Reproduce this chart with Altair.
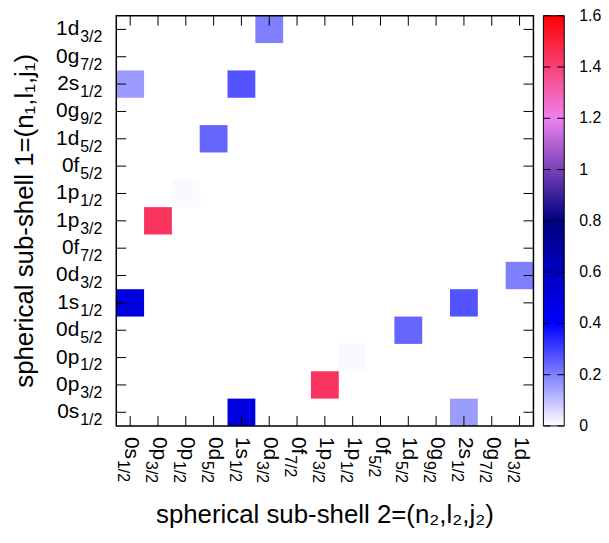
import altair as alt
import pandas as pd

# ---- data -------------------------------------------------------------
shell_main = ["0s", "0p", "0p", "0d", "1s", "0d", "0f", "1p", "1p", "0f", "1d", "0g", "2s", "0g", "1d"]
shell_sub = ["1/2", "3/2", "1/2", "5/2", "1/2", "3/2", "7/2", "3/2", "1/2", "5/2", "5/2", "9/2", "1/2", "7/2", "3/2"]

# non-zero matrix elements: (sub-shell 1, sub-shell 2, value)
cell_shell1 = ["1d3/2", "2s1/2", "2s1/2", "1d5/2", "1p1/2", "1p3/2", "0d3/2",
               "1s1/2", "1s1/2", "0d5/2", "0p1/2", "0p3/2", "0s1/2", "0s1/2"]
cell_shell2 = ["0d3/2", "0s1/2", "1s1/2", "0d5/2", "0p1/2", "0p3/2", "1d3/2",
               "0s1/2", "2s1/2", "1d5/2", "1p1/2", "1p3/2", "1s1/2", "2s1/2"]
cell_value = [0.20, 0.155, 0.27, 0.24, 0.01, 1.44, 0.20,
              0.50, 0.27, 0.24, 0.01, 1.44, 0.50, 0.155]

pal_stops = [0.0, 0.4, 0.8, 1.2, 1.6]
pal_colors = ["#ffffff", "#0000ff", "#000080", "#ee82ee", "#ff0000"]
cb_range = [0.0, 1.6]
cb_ticks = [0.0, 0.2, 0.4, 0.6, 0.8, 1.0, 1.2, 1.4, 1.6]
cb_labels = ["0", "0.2", "0.4", "0.6", "0.8", "1", "1.2", "1.4", "1.6"]

x_title = "spherical sub-shell 2=(n\u2082,l\u2082,j\u2082)"
y_title = "spherical sub-shell 1=(n\u2081,l\u2081,j\u2081)"

# ---- style ------------------------------------------------------------
W, H = 420, 413
FONT = "Liberation Sans"
MAIN_FS, SUB_FS, TITLE_FS, CB_FS = 21, 16, 26, 16
TICK = 10
CW = {"0": .556, "1": .556, "2": .556, "3": .556, "5": .556, "7": .556, "9": .556,
      "s": .5, "p": .556, "d": .556, "f": .278, "g": .556, "/": .278}


def tw(s, fs):
    return sum(CW[c] for c in s) * fs


cats = [m + s for m, s in zip(shell_main, shell_sub)]
heat_df = pd.DataFrame({"s1": cell_shell1, "s2": cell_shell2, "v": cell_value})
lab_df = pd.DataFrame({"c": cats, "m": shell_main, "s": shell_sub})
lab_df["w"] = [round(tw(m, MAIN_FS), 1) for m in shell_main]
one = pd.DataFrame({"k": [0]})

xs = alt.Scale(type="band", domain=cats, paddingInner=0, paddingOuter=0)
ys = alt.Scale(type="band", domain=cats[::-1], paddingInner=0, paddingOuter=0)
cscale = alt.Scale(type="linear", domain=pal_stops, range=pal_colors, interpolate="rgb")

X = alt.X("c:N", scale=xs, axis=None)
Y = alt.Y("c:N", scale=ys, axis=None)

heat = alt.Chart(heat_df).mark_rect().encode(
    x=alt.X("s2:N", scale=xs, axis=None),
    y=alt.Y("s1:N", scale=ys, axis=None),
    color=alt.Color("v:Q", scale=cscale, legend=None),
)

tick_mark = dict(color="black", strokeWidth=1)
t_bottom = alt.Chart(lab_df).mark_rule(**tick_mark).encode(x=X, y=alt.value(H), y2=alt.value(H - TICK))
t_top = alt.Chart(lab_df).mark_rule(**tick_mark).encode(x=X, y=alt.value(0), y2=alt.value(TICK))
t_left = alt.Chart(lab_df).mark_rule(**tick_mark).encode(y=Y, x=alt.value(0), x2=alt.value(TICK))
t_right = alt.Chart(lab_df).mark_rule(**tick_mark).encode(y=Y, x=alt.value(W), x2=alt.value(W - TICK))

frame = alt.Chart(one).mark_rect(filled=False, stroke="black", strokeWidth=1.5).encode(
    x=alt.value(0), x2=alt.value(W), y=alt.value(0), y2=alt.value(H))

# y tick labels (main text + subscript)
sub_w = tw("3/2", SUB_FS)
yl_main = alt.Chart(lab_df).mark_text(align="right", baseline="middle", font=FONT,
                                      fontSize=MAIN_FS, color="black").encode(
    y=Y, x=alt.value(-14 - sub_w - 1), text="m:N")
yl_sub = alt.Chart(lab_df).mark_text(align="right", baseline="middle", font=FONT,
                                     fontSize=SUB_FS, color="black", dy=8).encode(
    y=Y, x=alt.value(-14), text="s:N")

# x tick labels, rotated
xl_main = alt.Chart(lab_df).mark_text(align="left", baseline="middle", font=FONT, angle=90,
                                      fontSize=MAIN_FS, color="black", dy=-1).encode(
    x=X, y=alt.value(H + 11), text="m:N")
xl_subs = []
for w in sorted(set(lab_df["w"])):
    xl_subs.append(
        alt.Chart(lab_df).transform_filter(alt.datum.w == w).mark_text(
            align="left", baseline="middle", font=FONT, angle=90, fontSize=SUB_FS,
            color="black", dy=7, dx=w + 1).encode(x=X, y=alt.value(H + 11), text="s:N"))

xt = alt.Chart(one).mark_text(text=x_title, font=FONT, fontSize=TITLE_FS, align="center",
                              baseline="alphabetic", color="black").encode(
    x=alt.value(W / 2), y=alt.value(H + 98))
yt = alt.Chart(one).mark_text(text=y_title, font=FONT, fontSize=TITLE_FS, align="center",
                              baseline="middle", angle=270, color="black").encode(
    x=alt.value(-92), y=alt.value(H / 2))

main = alt.layer(heat, t_bottom, t_top, t_left, t_right, frame, yl_main, yl_sub,
                 xl_main, *xl_subs, xt, yt)

# ---- colour bar -------------------------------------------------------
cb_df = pd.DataFrame({"lo": [cb_range[0]], "hi": [cb_range[1]]})
cbt_df = pd.DataFrame({"t": cb_ticks, "lab": cb_labels})
cby = alt.Scale(domain=cb_range, nice=False, zero=False)
grad = alt.Gradient(
    gradient="linear", x1=0, x2=0, y1=1, y2=0,
    stops=[alt.GradientStop(offset=(s - cb_range[0]) / (cb_range[1] - cb_range[0]), color=c)
           for s, c in zip(pal_stops, pal_colors)])
CBX0, CBX1 = W + 10, W + 31
cbar = alt.Chart(cb_df).mark_rect(fill=grad, stroke="black", strokeWidth=1).encode(
    y=alt.Y("lo:Q", scale=cby, axis=None), y2="hi:Q",
    x=alt.value(CBX0), x2=alt.value(CBX1))
cb_t1 = alt.Chart(cbt_df).mark_rule(color="black", strokeWidth=1).encode(
    y=alt.Y("t:Q", scale=cby, axis=None), x=alt.value(CBX0), x2=alt.value(CBX0 + 7))
cb_t2 = alt.Chart(cbt_df).mark_rule(color="black", strokeWidth=1).encode(
    y=alt.Y("t:Q", scale=cby, axis=None), x=alt.value(CBX1 - 7), x2=alt.value(CBX1))
cb_lab = alt.Chart(cbt_df).mark_text(align="left", baseline="middle", font=FONT,
                                     fontSize=CB_FS, color="black").encode(
    y=alt.Y("t:Q", scale=cby, axis=None), x=alt.value(W + 46), text="lab:N")
colorbar = alt.layer(cbar, cb_t1, cb_t2, cb_lab)

chart = alt.layer(main, colorbar).resolve_scale(y="independent").properties(
    width=W, height=H,
    autosize=alt.AutoSizeParams(type="none"),
    padding={"left": 109, "top": 6, "right": 68, "bottom": 106},
    background="white",
).configure_view(stroke=None)

chart.save("out.html", embed_options={"renderer": "svg", "actions": False})
